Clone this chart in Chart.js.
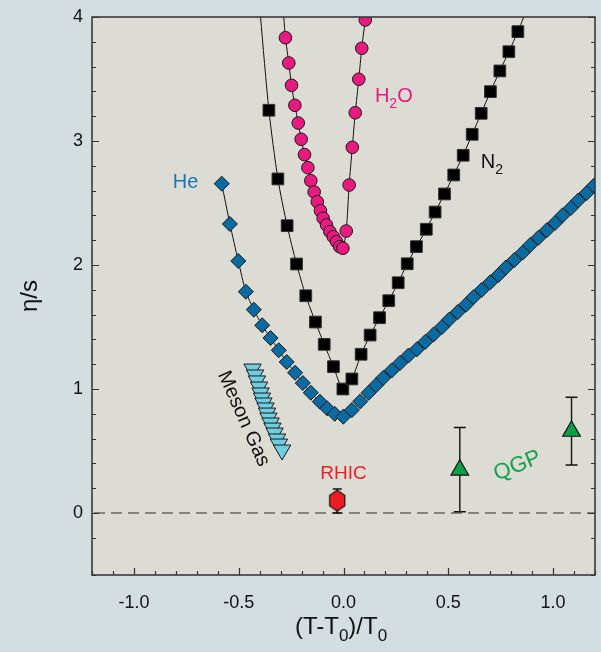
<!DOCTYPE html>
<html>
<head>
<meta charset="utf-8">
<script src="https://cdn.jsdelivr.net/npm/chart.js@4/dist/chart.umd.min.js"></script>
<style>
  html, body { margin: 0; padding: 0; background: #d4dde0; }
  canvas { display: block; }
</style>
</head>
<body>
<canvas id="c" width="601" height="652"></canvas>
<script>
// ---- data ----
const heX = [-0.581, -0.542, -0.502, -0.466, -0.428, -0.388, -0.348, -0.309, -0.271, -0.231, -0.194, -0.156, -0.113, -0.078, -0.042, -0.001,
  0.04, 0.08, 0.12, 0.155, 0.19, 0.23, 0.27, 0.31, 0.35, 0.39, 0.43, 0.47, 0.505, 0.545, 0.585, 0.62, 0.66, 0.70, 0.74, 0.775, 0.815, 0.855, 0.89, 0.93, 0.97, 1.01, 1.045, 1.085, 1.12, 1.16, 1.195];
const heY = [2.656, 2.331, 2.032, 1.785, 1.640, 1.514, 1.411, 1.312, 1.218, 1.131, 1.048, 0.970, 0.898, 0.844, 0.800, 0.777,
  0.83, 0.90, 0.97, 1.03, 1.09, 1.15, 1.21, 1.27, 1.32, 1.38, 1.44, 1.50, 1.56, 1.62, 1.68, 1.74, 1.80, 1.86, 1.92, 1.98, 2.04, 2.10, 2.16, 2.22, 2.28, 2.34, 2.40, 2.46, 2.52, 2.58, 2.64];

const n2X = [-0.356, -0.313, -0.269, -0.224, -0.180, -0.134, -0.092, -0.048, -0.003, 0.040, 0.084, 0.127, 0.172, 0.216, 0.261, 0.304, 0.348, 0.395, 0.437, 0.482, 0.526, 0.571, 0.614, 0.657, 0.701, 0.746, 0.789, 0.832];
const n2Y = [3.248, 2.694, 2.317, 2.008, 1.752, 1.540, 1.360, 1.180, 1.000, 1.081, 1.280, 1.435, 1.575, 1.712, 1.857, 2.010, 2.148, 2.288, 2.427, 2.573, 2.726, 2.885, 3.054, 3.223, 3.398, 3.565, 3.720, 3.882];
// where the N2 curve leaves the top of the frame
const n2EndX = [-0.396, 0.860];
const n2EndY = [4.0, 4.0];

const h2oX = [-0.277, -0.261, -0.248, -0.232, -0.216, -0.202, -0.186, -0.170, -0.156, -0.140, -0.125, -0.110, -0.097, -0.081, -0.065, -0.049, -0.033, -0.018, -0.003,
  0.013, 0.027, 0.042, 0.056, 0.073, 0.087, 0.104];
const h2oY = [3.833, 3.629, 3.449, 3.288, 3.145, 3.014, 2.890, 2.785, 2.680, 2.589, 2.510, 2.438, 2.377, 2.323, 2.269, 2.228, 2.188, 2.148, 2.135,
  2.274, 2.645, 2.949, 3.228, 3.498, 3.748, 3.976];
const h2oEndX = [-0.285, 0.107];
const h2oEndY = [4.0, 4.0];

const mesonX = [-0.434, -0.422, -0.413, -0.403, -0.396, -0.389, -0.382, -0.372, -0.365, -0.358, -0.348, -0.339, -0.329, -0.317, -0.308, -0.293];
const mesonY = [1.161, 1.113, 1.065, 1.016, 0.968, 0.927, 0.887, 0.847, 0.806, 0.766, 0.726, 0.685, 0.645, 0.597, 0.556, 0.508];

const rhicX = [-0.03];
const rhicY = [0.10];
const rhicLo = [0.0];
const rhicHi = [0.194];

const qgpX = [0.555, 1.088];
const qgpY = [0.347, 0.66];
const qgpLo = [0.01, 0.387];
const qgpHi = [0.69, 0.933];

const xMin = -1.2, xMax = 1.2, xStep = 0.1;
const yMin = -0.5, yMax = 4, yStep = 0.2;

const FONT = "'Liberation Sans', Arial, sans-serif";

function pts(xs, ys) {
  return xs.map((x, i) => ({ x: x, y: ys[i] }));
}
function withEnds(xs, ys, ex, ey) {
  const p = pts(xs, ys);
  return [{ x: ex[0], y: ey[0] }].concat(p, [{ x: ex[1], y: ey[1] }]);
}

// hexagon marker for RHIC
function hexagon() {
  const c = document.createElement('canvas');
  c.width = 20; c.height = 24;
  const g = c.getContext('2d');
  const r = 10;
  g.beginPath();
  for (let i = 0; i < 6; i++) {
    const a = Math.PI / 2 + i * Math.PI / 3;
    const px = 10 + Math.cos(a) * (r - 1) * 0.97;
    const py = 12 - Math.sin(a) * (r + 0.5);
    if (i === 0) g.moveTo(px, py); else g.lineTo(px, py);
  }
  g.closePath();
  g.fillStyle = '#ee1d24';
  g.fill();
  g.lineWidth = 1.2;
  g.strokeStyle = '#111';
  g.stroke();
  return c;
}

// text with subscripts, parts: [text, isSub]
function drawParts(ctx, parts, x, y, size, color) {
  const subSize = Math.round(size * 0.72);
  let w = 0;
  parts.forEach(p => {
    ctx.font = (p[1] ? subSize : size) + 'px ' + FONT;
    w += ctx.measureText(p[0]).width;
  });
  let cx = x - w / 2;
  ctx.fillStyle = color;
  ctx.textAlign = 'left';
  ctx.textBaseline = 'middle';
  parts.forEach(p => {
    ctx.font = (p[1] ? subSize : size) + 'px ' + FONT;
    ctx.fillText(p[0], cx, p[1] ? y + size * 0.38 : y);
    cx += ctx.measureText(p[0]).width;
  });
}

const labelText = [
  { parts: [['He', false]], x: -0.754, y: 2.669, color: '#1a76b0', size: 20, rot: 0 },
  { parts: [['H', false], ['2', true], ['O', false]], x: 0.24, y: 3.36, color: '#e8197f', size: 20, rot: 0 },
  { parts: [['N', false], ['2', true]], x: 0.708, y: 2.83, color: '#111', size: 20, rot: 0 },
  { parts: [['Meson Gas', false]], x: -0.477, y: 0.76, color: '#111', size: 20, rot: 66 },
  { parts: [['RHIC', false]], x: 0.0, y: 0.315, color: '#ee1d24', size: 19, rot: 0 },
  { parts: [['QGP', false]], x: 0.83, y: 0.38, color: '#13a04c', size: 22, rot: -22 }
];

const frame = {
  id: 'frame',
  beforeDatasetsDraw(chart) {
    const { ctx, chartArea: a, scales } = chart;
    ctx.save();
    ctx.fillStyle = '#dddcd4';
    ctx.fillRect(a.left, a.top, a.right - a.left, a.bottom - a.top);
    // dashed zero line
    const y0 = scales.y.getPixelForValue(0);
    ctx.strokeStyle = '#666';
    ctx.lineWidth = 1.6;
    ctx.setLineDash([11, 6]);
    ctx.beginPath();
    ctx.moveTo(a.left + 2, y0);
    ctx.lineTo(a.right, y0);
    ctx.stroke();
    ctx.setLineDash([]);
    // error bars
    ctx.strokeStyle = '#111';
    ctx.lineWidth = 1.4;
    function bar(x, lo, hi, cap) {
      const px = scales.x.getPixelForValue(x);
      const pl = scales.y.getPixelForValue(lo);
      const ph = scales.y.getPixelForValue(hi);
      ctx.beginPath();
      ctx.moveTo(px, pl); ctx.lineTo(px, ph);
      ctx.moveTo(px - cap, pl); ctx.lineTo(px + cap, pl);
      ctx.moveTo(px - cap, ph); ctx.lineTo(px + cap, ph);
      ctx.stroke();
    }
    qgpX.forEach((x, i) => bar(x, qgpLo[i], qgpHi[i], 6));
    rhicX.forEach((x, i) => bar(x, rhicLo[i], rhicHi[i], 4.5));
    ctx.restore();
  },
  afterDatasetsDraw(chart) {
    const { ctx, chartArea: a, scales } = chart;
    ctx.save();
    // ticks, pointing inward
    ctx.strokeStyle = '#333';
    ctx.lineWidth = 1.2;
    ctx.beginPath();
    scales.x.ticks.forEach(t => {
      const px = Math.round(scales.x.getPixelForValue(t.value)) + 0.5;
      const major = Math.abs(t.value * 2 - Math.round(t.value * 2)) < 1e-6;
      const len = major ? 7 : 4;
      ctx.moveTo(px, a.bottom); ctx.lineTo(px, a.bottom - len);
    });
    scales.y.ticks.forEach(t => {
      const py = Math.round(scales.y.getPixelForValue(t.value)) + 0.5;
      const major = Math.abs(t.value - Math.round(t.value)) < 1e-6;
      const len = major ? 7 : 4;
      ctx.moveTo(a.left, py); ctx.lineTo(a.left + len, py);
      ctx.moveTo(a.right, py); ctx.lineTo(a.right - len, py);
    });
    ctx.stroke();
    // frame
    ctx.strokeStyle = '#3a3a3a';
    ctx.lineWidth = 1.6;
    ctx.strokeRect(a.left, a.top, a.right - a.left, a.bottom - a.top);

    // series labels
    labelText.forEach(l => {
      const px = scales.x.getPixelForValue(l.x);
      const py = scales.y.getPixelForValue(l.y);
      ctx.save();
      ctx.translate(px, py);
      ctx.rotate(l.rot * Math.PI / 180);
      drawParts(ctx, l.parts, 0, 0, l.size, l.color);
      ctx.restore();
    });

    // axis titles
    ctx.save();
    ctx.translate(30, (a.top + a.bottom) / 2);
    ctx.rotate(-Math.PI / 2);
    drawParts(ctx, [['\u03b7/s', false]], 0, 0, 24, '#111');
    ctx.restore();
    drawParts(ctx, [['(T-T', false], ['0', true], [')/T', false], ['0', true]], 341, 627, 24, '#111');
    ctx.restore();
  }
};

const lineStyle = { showLine: true, borderColor: '#111', borderWidth: 1, pointRadius: 0, tension: 0.25, order: 10, fill: false };

new Chart(document.getElementById('c'), {
  type: 'scatter',
  data: {
    datasets: [
      Object.assign({ label: 'He line', data: pts(heX, heY) }, lineStyle),
      Object.assign({ label: 'N2 line', data: withEnds(n2X, n2Y, n2EndX, n2EndY) }, lineStyle),
      Object.assign({ label: 'H2O line', data: withEnds(h2oX, h2oY, h2oEndX, h2oEndY) }, lineStyle),
      {
        label: 'He', data: pts(heX, heY), pointStyle: 'rectRot', pointRadius: 7.5,
        backgroundColor: '#0a6aa2', borderColor: '#1a1a1a', borderWidth: 1, order: 1
      },
      {
        label: 'N2', data: pts(n2X, n2Y), pointStyle: 'rect', pointRadius: 8.3,
        backgroundColor: '#000', borderColor: '#333', borderWidth: 1, order: 1
      },
      {
        label: 'H2O', data: pts(h2oX, h2oY), pointStyle: 'circle', pointRadius: 6.3,
        backgroundColor: '#e8197f', borderColor: '#1a1a1a', borderWidth: 1, order: 1
      },
      {
        label: 'Meson Gas', data: pts(mesonX, mesonY), pointStyle: 'triangle', rotation: 180, pointRadius: 10,
        backgroundColor: '#6fcfe0', borderColor: '#1a1a1a', borderWidth: 1, order: 1
      },
      {
        label: 'RHIC', data: pts(rhicX, rhicY), pointStyle: hexagon(), order: 0
      },
      {
        label: 'QGP', data: pts(qgpX, qgpY), pointStyle: 'triangle', pointRadius: 10.2,
        backgroundColor: '#0f9e48', borderColor: '#111', borderWidth: 1.2, order: 0
      }
    ]
  },
  options: {
    responsive: false,
    animation: false,
    layout: { autoPadding: false, padding: { top: 17, right: 6, left: 0, bottom: 0 } },
    plugins: { legend: { display: false }, tooltip: { enabled: false } },
    scales: {
      x: {
        type: 'linear', min: xMin, max: xMax,
        grid: { display: false, drawTicks: false },
        border: { display: false },
        afterFit: s => { s.height = 77; s.paddingLeft = 0; s.paddingRight = 0; },
        ticks: {
          stepSize: xStep, autoSkip: false, maxRotation: 0, padding: 17,
          color: '#111', font: { family: FONT, size: 18 },
          callback: v => {
            const r = Math.round(v * 10) / 10;
            return Math.abs(r * 2 - Math.round(r * 2)) < 1e-6 ? (r === 0 ? '0.0' : r.toFixed(1)) : '';
          }
        }
      },
      y: {
        type: 'linear', min: yMin, max: yMax,
        grid: { display: false, drawTicks: false },
        border: { display: false },
        afterFit: s => { s.width = 92; s.paddingTop = 0; s.paddingBottom = 0; },
        ticks: {
          stepSize: yStep, autoSkip: false, padding: 9,
          color: '#111', font: { family: FONT, size: 18 },
          callback: v => Math.abs(v - Math.round(v)) < 1e-6 ? String(Math.round(v)) : ''
        }
      }
    }
  },
  plugins: [frame]
});
</script>
</body>
</html>
